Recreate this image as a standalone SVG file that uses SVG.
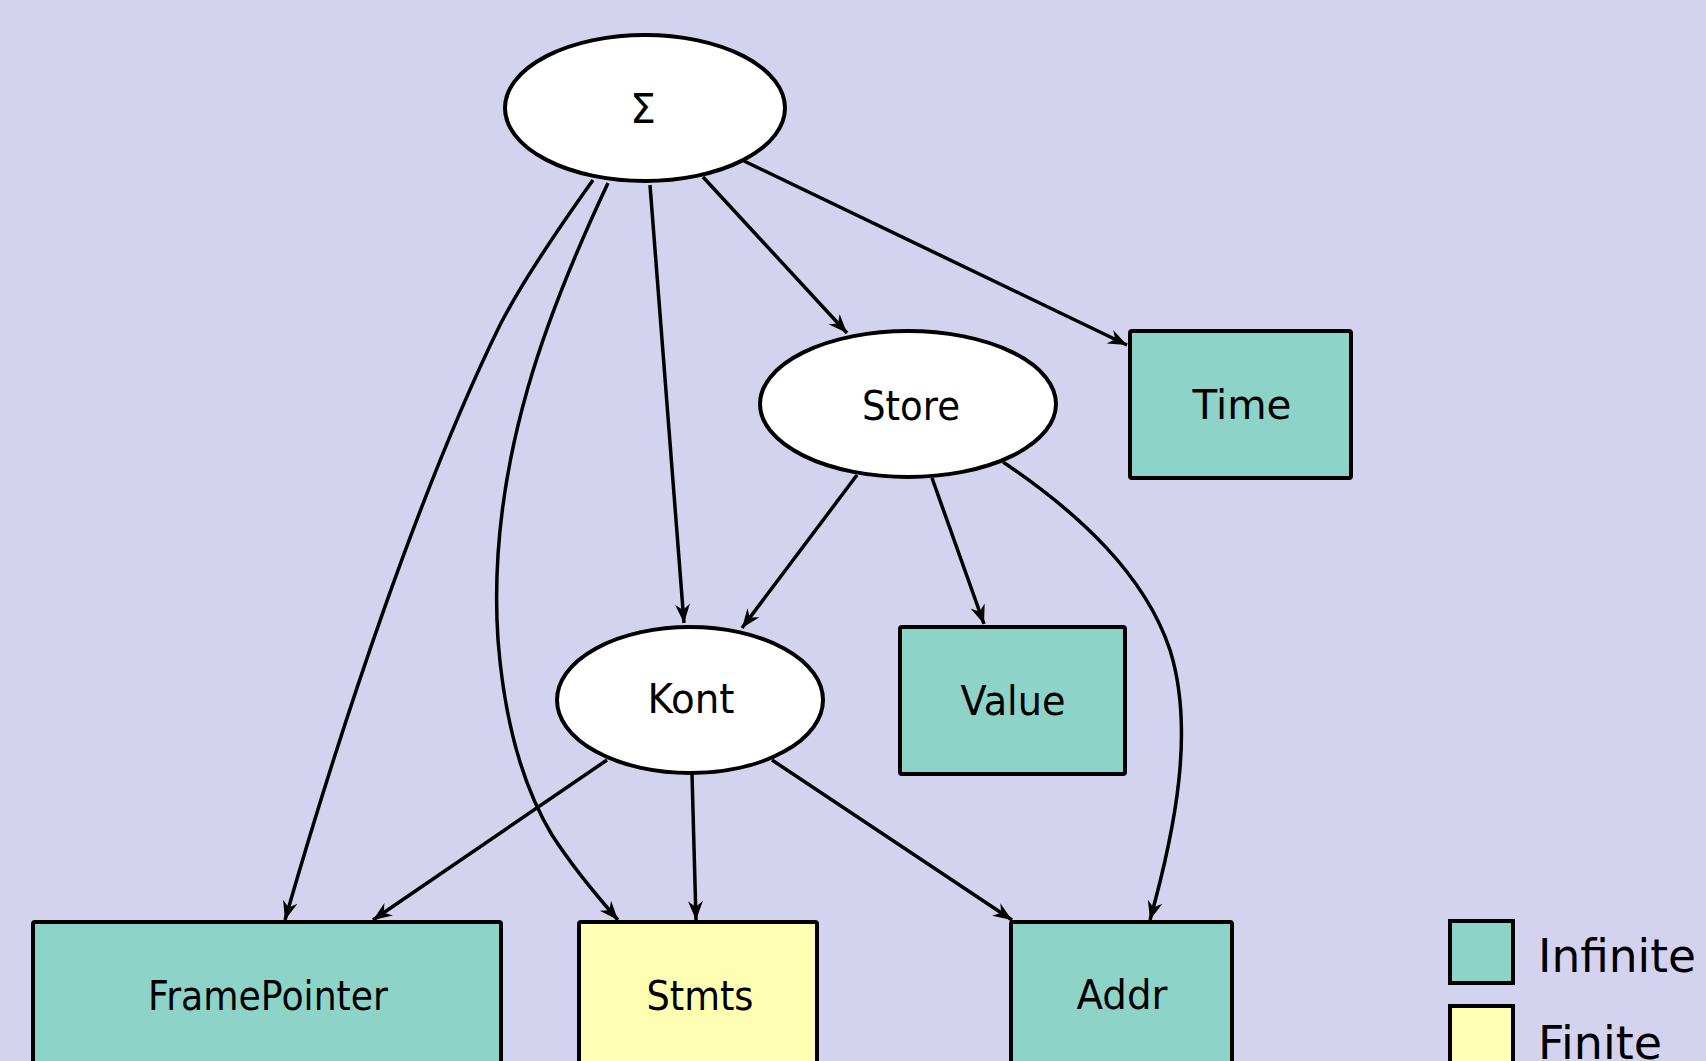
<svg xmlns="http://www.w3.org/2000/svg" width="1706" height="1061" viewBox="0 0 1706 1061">
  <style>
    .ell { fill: #ffffff; stroke: #000000; stroke-width: 4; }
    .inf { fill: #8dd3c7; stroke: #000000; stroke-width: 4; }
    .fin { fill: #ffffb3; stroke: #000000; stroke-width: 4; }
    .lbl { font-family: "DejaVu Sans", "Liberation Sans", sans-serif; font-size: 41px; fill: #000000; text-anchor: middle; }
    .leg { font-family: "DejaVu Sans", "Liberation Sans", sans-serif; font-size: 47px; fill: #000000; }
    .edge { fill: none; stroke: #000000; stroke-width: 3.5; marker-end: url(#arrow); }
  </style>
  <defs>
    <marker id="arrow" markerUnits="userSpaceOnUse" markerWidth="24" markerHeight="20" viewBox="-20 -10 22 20" refX="0" refY="0" orient="auto">
      <path d="M0,0 L-19,-7.5 L-13,0 L-19,7.5 Z" fill="#000000"/>
    </marker>
  </defs>

  <rect x="0" y="0" width="1706" height="1061" fill="#d4d3ef"/>

  <!-- connectors -->
  <g id="edges">
    <path class="edge" d="M593,180 C568,215 524,278 500,325 C421,486 342,722 285,920"/>
    <path class="edge" d="M608,183 C553,300 486,460 498,640 C505,730 525,790 552,835 C572,866 596,895 618,920"/>
    <path class="edge" d="M650,185 L684,623"/>
    <path class="edge" d="M703,177 L847,333"/>
    <path class="edge" d="M744,161 L1127,345"/>
    <path class="edge" d="M857,475 L742,628"/>
    <path class="edge" d="M932,478 L984,624"/>
    <path class="edge" d="M1003,462 C1080,514 1145,575 1170,650 C1195,730 1175,830 1150,920"/>
    <path class="edge" d="M607,760 L373,920"/>
    <path class="edge" d="M692,774 L696,920"/>
    <path class="edge" d="M772,760 L1012,920"/>
  </g>

  <g id="sigma">
    <ellipse class="ell" cx="645" cy="108" rx="140" ry="73"/>
    <text class="lbl" x="643" y="123">Σ</text>
  </g>

  <g id="store">
    <ellipse class="ell" cx="908" cy="404" rx="148" ry="73"/>
    <text class="lbl" x="911" y="420" textLength="98" lengthAdjust="spacingAndGlyphs">Store</text>
  </g>

  <g id="time">
    <rect class="inf" x="1130" y="331" width="221" height="147" rx="2"/>
    <text class="lbl" x="1242" y="419" textLength="99" lengthAdjust="spacingAndGlyphs">Time</text>
  </g>

  <g id="kont">
    <ellipse class="ell" cx="690" cy="700" rx="133" ry="73"/>
    <text class="lbl" x="691" y="713" textLength="87" lengthAdjust="spacingAndGlyphs">Kont</text>
  </g>

  <g id="value">
    <rect class="inf" x="900" y="627" width="225" height="147" rx="2"/>
    <text class="lbl" x="1013" y="715" textLength="105" lengthAdjust="spacingAndGlyphs">Value</text>
  </g>

  <g id="framepointer">
    <rect class="inf" x="33" y="922" width="468" height="147" rx="2"/>
    <text class="lbl" x="268" y="1010" textLength="240" lengthAdjust="spacingAndGlyphs">FramePointer</text>
  </g>

  <g id="stmts">
    <rect class="fin" x="579" y="922" width="238" height="147" rx="2"/>
    <text class="lbl" x="700" y="1010" textLength="107" lengthAdjust="spacingAndGlyphs">Stmts</text>
  </g>

  <g id="addr">
    <rect class="inf" x="1011" y="922" width="221" height="147" rx="2"/>
    <text class="lbl" x="1122" y="1009" textLength="91" lengthAdjust="spacingAndGlyphs">Addr</text>
  </g>

  <g id="legend">
    <rect class="inf" x="1450" y="921" width="63" height="62"/>
    <text class="leg" x="1538" y="972" textLength="158" lengthAdjust="spacingAndGlyphs">Infinite</text>
    <rect class="fin" x="1450" y="1006" width="63" height="70"/>
    <text class="leg" x="1538" y="1059" textLength="124" lengthAdjust="spacingAndGlyphs">Finite</text>
  </g>
</svg>
